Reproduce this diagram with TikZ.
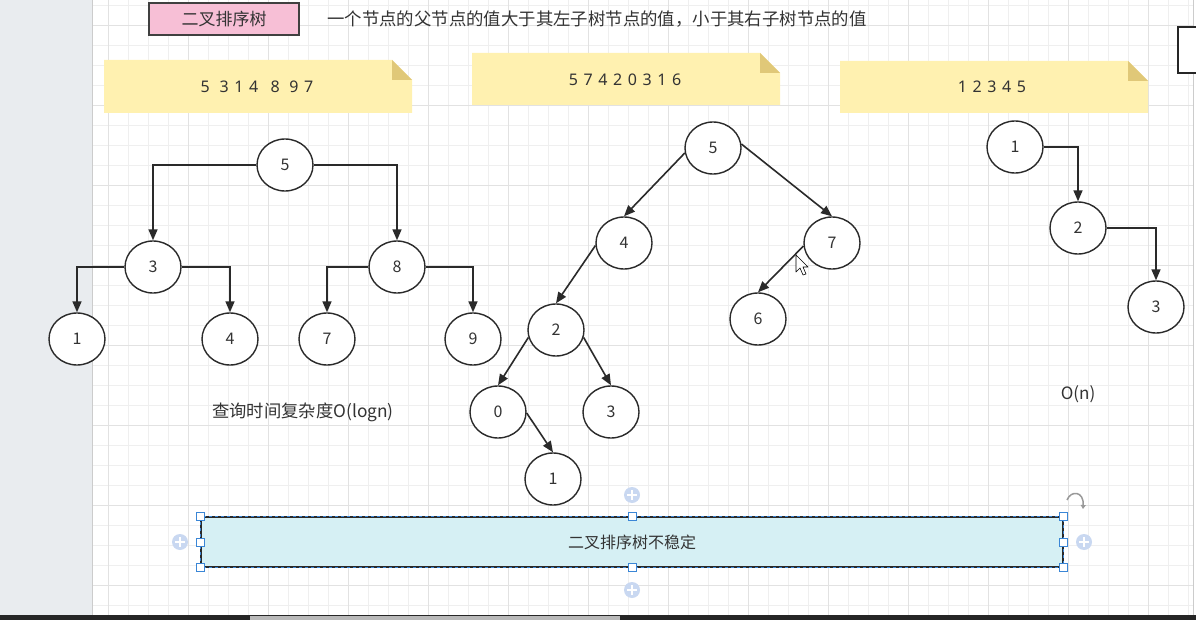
\documentclass[tikz,border=0pt]{standalone}
\usepackage{fontspec}
\setmainfont{Noto Sans CJK SC}
\newfontfamily\numfont[LetterSpace=35]{Noto Sans}
\usetikzlibrary{arrows.meta,shapes.geometric,calc}
\definecolor{linec}{HTML}{2A2A2A}
\definecolor{txt}{HTML}{333333}
\definecolor{gridminor}{HTML}{EFEFEF}
\definecolor{gridmajor}{HTML}{E2E2E2}
\definecolor{leftgray}{HTML}{E9ECEF}
\definecolor{pinkc}{HTML}{F7BFD6}
\definecolor{notec}{HTML}{FFF1B0}
\definecolor{foldc}{HTML}{E0C878}
\definecolor{botc}{HTML}{D6F0F4}
\definecolor{selc}{HTML}{3A86D6}
\definecolor{plusc}{HTML}{C9D8F1}
\tikzset{
  tnode/.style={ellipse, draw=linec, line width=1.4pt, fill=white, minimum width=56pt, minimum height=52pt, inner sep=0pt, font=\fontsize{16}{16}\selectfont, text=txt},
  arr/.style={draw=linec, line width=1.6pt, -{Triangle[length=11pt,width=9pt]}},
  notetext/.style={font=\numfont\fontsize{16}{16}\selectfont, text=txt},
  cjk/.style={font=\fontsize{17}{17}\selectfont, text=txt},
  handle/.style={draw=selc, fill=white, line width=0.8pt}
}
\newcommand{\notebox}[4]{%
  \fill[notec] (#1,#2) -- (#3-20,#2) -- (#3,#2+20) -- (#3,#4) -- (#1,#4) -- cycle;
  \fill[foldc] (#3-20,#2) -- (#3,#2+20) -- (#3-20,#2+20) -- cycle;}
\newcommand{\plusmark}[2]{%
  \fill[plusc] (#1,#2) circle (8pt);
  \draw[white, line width=2pt] (#1-5,#2) -- (#1+5,#2) (#1,#2-5) -- (#1,#2+5);}
\begin{document}
\begin{tikzpicture}[x=1pt,y=-1pt]
\useasboundingbox (0,0) rectangle (1196,620);
\clip (0,0) rectangle (1196,620);
% canvas
\fill[white] (0,0) rectangle (1196,620);
\begin{scope}
\clip (92,0) rectangle (1193,615);
\begin{scope}[shift={(8,5)}]
\draw[gridminor, line width=0.8pt, step=20pt] (60,-20) grid (1200,620);
\end{scope}
\begin{scope}[shift={(28,25)}]
\draw[gridmajor, line width=0.9pt, step=80pt] (40,-40) grid (1200,620);
\end{scope}
\end{scope}
\fill[leftgray] (0,0) rectangle (92,615);
\draw[gray!40, line width=0.6pt] (92,0) -- (92,615);
\fill[black!85] (0,615) rectangle (1196,620);
\fill[gray!55] (250,616) rectangle (620,620);
\draw[gray!40] (1193,0) -- (1193,615);

% title
\node[draw=black!75, line width=1.3pt, fill=pinkc, minimum width=150pt, minimum height=32pt, inner sep=0pt, cjk] (title) at (224,19) {二叉排序树};
\node[font=\fontsize{17.4}{17.4}\selectfont, text=txt, anchor=west, inner sep=0pt] (head) at (327,19) {一个节点的父节点的值大于其左子树节点的值，小于其右子树节点的值};
\draw[black!85, line width=1.5pt, fill=white] (1178,27) rectangle (1200,73);

% notes
\notebox{104}{60}{412}{113}
\notebox{472}{53}{780}{105}
\notebox{840}{61}{1148}{113}
\node[notetext] (n1) at (257,87) {5 314 \,8 97};
\node[notetext] (n2) at (625,80) {57420316};
\node[notetext] (n3) at (992,87) {12345};

% tree 1
\node[tnode] (a5) at (285,165) {5};
\node[tnode] (a3) at (153,267) {3};
\node[tnode] (a8) at (397,267) {8};
\node[tnode] (a1) at (77,339) {1};
\node[tnode] (a4) at (230,339) {4};
\node[tnode] (a7) at (327,339) {7};
\node[tnode] (a9) at (473,339) {9};
\draw[arr] (a5.west) -| (a3.north);
\draw[arr] (a5.east) -| (a8.north);
\draw[arr] (a3.west) -| (a1.north);
\draw[arr] (a3.east) -| (a4.north);
\draw[arr] (a8.west) -| (a7.north);
\draw[arr] (a8.east) -| (a9.north);
\node[font=\fontsize{17.3}{17.3}\selectfont, text=txt] (c1) at (303,412) {查询时间复杂度O(logn)};

% tree 2
\node[tnode] (b5) at (713,148) {5};
\node[tnode] (b4) at (624,243) {4};
\node[tnode] (b7) at (832,243) {7};
\node[tnode] (b2) at (556,330) {2};
\node[tnode] (b6) at (758,319) {6};
\node[tnode] (b0) at (498,412) {0};
\node[tnode] (b3) at (611,412) {3};
\node[tnode] (b1) at (553,479) {1};
\draw[arr] (b5.190) -- (b4.north);
\draw[arr] (b5.8) -- (b7.north);
\draw[arr] (b4.185) -- (b2.north);
\draw[arr] (b7.186) -- (b6.north);
\draw[arr] (b2.195) -- (b0.north);
\draw[arr] (b2.345) -- (b3.north);
\draw[arr] (b0.358) -- (b1.north);

% tree 3
\node[tnode] (d1) at (1015,147) {1};
\node[tnode] (d2) at (1078,228) {2};
\node[tnode] (d3) at (1156,307) {3};
\draw[arr] (d1.east) -| (d2.north);
\draw[arr] (d2.east) -| (d3.north);
\node[cjk] (c2) at (1078,394) {O(n)};

% cursor
\draw[black, fill=white, line width=0.6pt, line join=round] (796,255) -- (796,272) -- (800,268) -- (803,275) -- (806,274) -- (803,267) -- (808,267) -- cycle;

% bottom box (selected)
\node[draw=linec, line width=1.3pt, fill=botc, minimum width=862pt, minimum height=50pt, inner sep=0pt, font=\fontsize{16}{16}\selectfont, text=txt] (bot) at (632,542) {二叉排序树不稳定};
\draw[selc, dashed, line width=0.8pt] (bot.north west) rectangle (bot.south east);
\foreach \p in {bot.north west, bot.north, bot.north east, bot.west, bot.east, bot.south west, bot.south, bot.south east}
  \draw[handle] ($(\p)+(-4,-4)$) rectangle ($(\p)+(4,4)$);
\plusmark{632}{495}
\plusmark{180}{542}
\plusmark{1084}{542}
\plusmark{632}{590}
\draw[gray!80, line width=1.5pt, -{Triangle[length=4pt,width=5pt]}] (1067,500) .. controls (1071,490) and (1084,491) .. (1083,509);
\end{tikzpicture}
\end{document}
